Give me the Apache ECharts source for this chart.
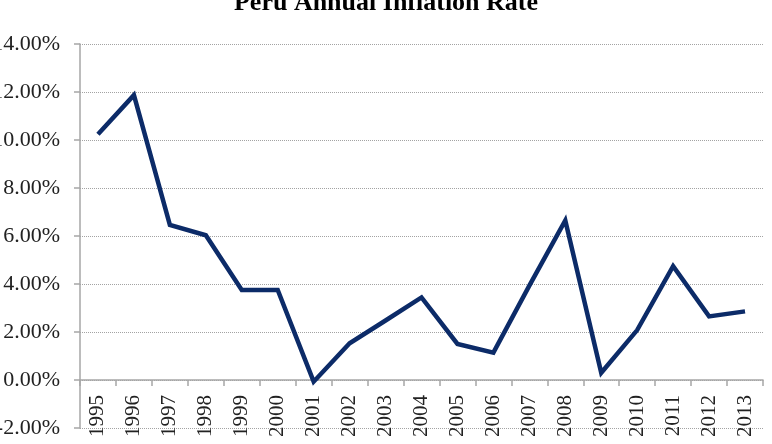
<!DOCTYPE html>
<html>
<head>
<meta charset="utf-8">
<script src="https://cdn.jsdelivr.net/npm/echarts@6/dist/echarts.min.js"></script>
<style>
  html, body { margin: 0; padding: 0; background: #fff; }
  #chart { width: 772px; height: 444px; }
</style>
</head>
<body>
<div id="chart"></div>
<script>
const years = ['1995', '1996', '1997', '1998', '1999', '2000', '2001', '2002', '2003', '2004',
  '2005', '2006', '2007', '2008', '2009', '2010', '2011', '2012', '2013']
const inflation = [10.24, 11.87, 6.46, 6.03, 3.75, 3.75, -0.07, 1.53, 2.48, 3.44,
  1.5, 1.14, 3.93, 6.65, 0.3, 2.08, 4.74, 2.65, 2.86]

const chart = echarts.init(document.getElementById('chart'))
const font = '"Liberation Serif", "Times New Roman", serif'

chart.setOption({
  animation: false,
  backgroundColor: '#fff',
  title: {
    text: 'Peru Annual Inflation Rate',
    left: 'center',
    top: -15,
    textStyle: { fontFamily: font, fontSize: 26, fontWeight: 'bold', color: '#000' }
  },
  grid: { top: 44, left: 80, right: 9, bottom: 16, containLabel: false, outerBoundsMode: 'none' },
  xAxis: {
    type: 'category',
    data: years,
    boundaryGap: true,
    // sits on the 0% line: one grid step (48px) above the bottom edge
    offset: -48,
    axisLine: { onZero: false, lineStyle: { color: '#a6a6a6', width: 1.5 } },
    axisTick: { show: true, length: 6, lineStyle: { color: '#a6a6a6', width: 1.5 } },
    axisLabel: { rotate: 90, margin: 15, fontFamily: font, fontSize: 21, color: '#222' }
  },
  yAxis: {
    type: 'value',
    min: -2,
    max: 14,
    interval: 2,
    axisLine: { show: true, lineStyle: { color: '#a6a6a6', width: 1.5 } },
    axisTick: { show: true, length: 6, lineStyle: { color: '#a6a6a6', width: 1.5 } },
    axisLabel: {
      margin: 20,
      fontFamily: font,
      fontSize: 22,
      color: '#222',
      formatter: v => v.toFixed(2) + '%'
    },
    splitLine: { lineStyle: { color: '#a3a3a3', type: [1, 1], width: 1 } }
  },
  series: [{
    type: 'line',
    data: inflation,
    showSymbol: false,
    lineStyle: { color: '#0c2b68', width: 4.5, join: 'miter' },
    itemStyle: { color: '#0c2b68' }
  }]
})
</script>
</body>
</html>
